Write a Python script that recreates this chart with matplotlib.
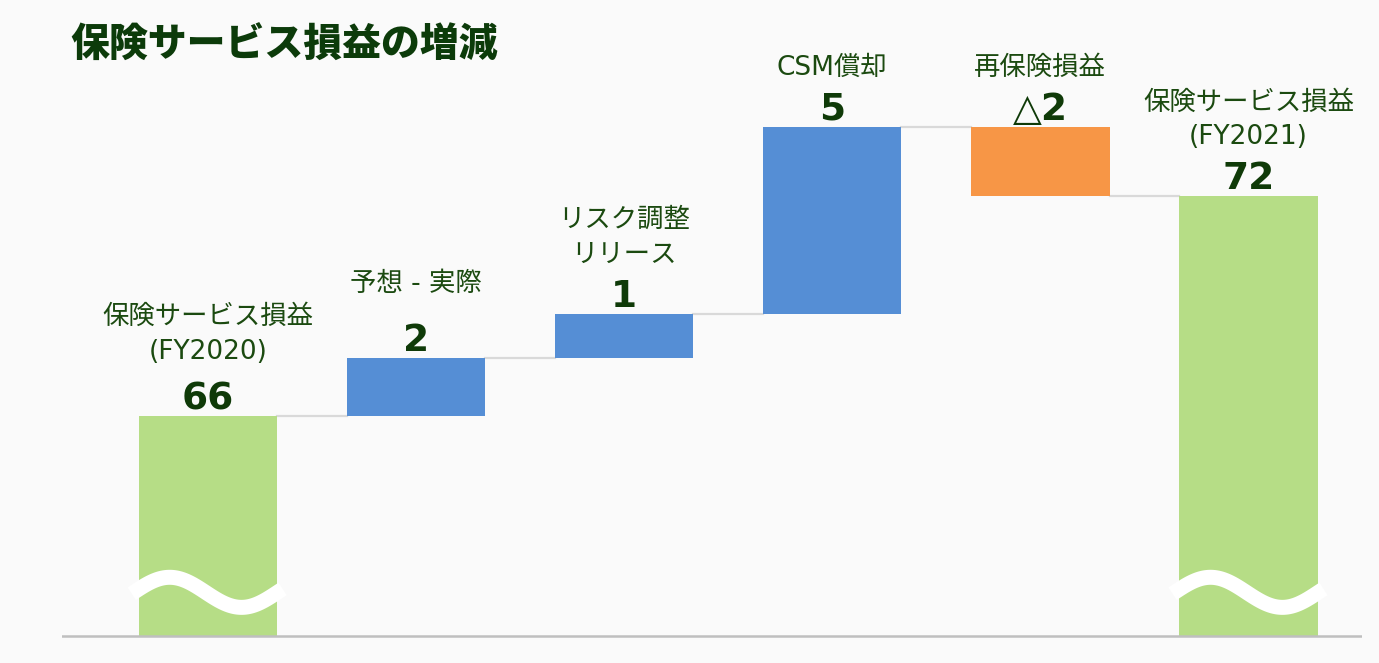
import numpy as np
import matplotlib
matplotlib.use('Agg')
import matplotlib.pyplot as plt

# data
labels = ['保険サービス損益\n(FY2020)', '予想 - 実際', 'リスク調整\nリリース',
          'CSM償却', '再保険損益', '保険サービス損益\n(FY2021)']
value_text = ['66', '2', '1', '5', '△2', '72']
start = 66.0
deltas = [1.6, 1.2, 5.1, -1.9]
end = 72.0
axis_floor = 60.0

green = '#b6dd86'
blue = '#558ed5'
orange = '#f79646'
txt_col = '#1b4a10'
num_col = '#0f3a08'
bg = '#fafafa'
fonts = ['DejaVu Sans', 'Noto Sans CJK JP']

# waterfall geometry
bottoms = [axis_floor]
tops = [start]
level = start
for d in deltas:
    bottoms.append(min(level, level + d))
    tops.append(max(level, level + d))
    level += d
bottoms.append(axis_floor)
tops.append(end)
colors = [green] + [blue if d > 0 else orange for d in deltas] + [green]
levels = list(np.cumsum([start] + deltas))

fig = plt.figure(figsize=(13.79, 6.63), dpi=100, facecolor=bg)
ax = fig.add_axes([62 / 1379, 23 / 663, 1300 / 1379, 640 / 663])
ax.set_facecolor(bg)

x = np.arange(len(labels))
w = 0.665
heights = np.array(tops) - np.array(bottoms)
ax.bar(x, heights, bottom=bottoms, width=w, color=colors, zorder=2)

# connectors
for i in range(len(labels) - 1):
    ax.plot([x[i] + w / 2, x[i + 1] - w / 2], [levels[i], levels[i]],
            color='#d9d9d9', lw=1.6, zorder=1)

# baseline
ax.axhline(axis_floor, color='#bfbfbf', lw=1.8, zorder=3)

# break marks on total bars
for i in (0, len(labels) - 1):
    xs = np.linspace(-0.365, 0.36, 120)
    ys = 61.2 + 0.41 * np.sin(2 * np.pi * (xs + 0.355) / 0.69)
    ax.plot(xs + x[i], ys, color='white', lw=10.8, solid_capstyle='butt', zorder=4)

# labels (small extra lift on the first two category labels, as in the slide)
extra = {0: 4, 1: 11}
for i in range(len(labels)):
    ax.annotate(value_text[i], (x[i], tops[i]), xytext=(0, 5), textcoords='offset points',
                ha='center', va='baseline', fontsize=27, fontweight='bold',
                color=num_col, family=fonts)
    ax.annotate(labels[i], (x[i], tops[i]), xytext=(0, 33 + extra.get(i, 0)),
                textcoords='offset points', ha='center', va='bottom', fontsize=19,
                color=txt_col, family=fonts, linespacing=1.45)

ax.set_xlim(-0.70, 5.545)
ax.set_ylim(axis_floor - 0.1, axis_floor - 0.1 + 640 / 36.67)
ax.axis('off')

fig.text(70 / 1379, 1 - 45 / 663, '保険サービス損益の増減', fontsize=28, fontweight='black',
         color='#0c3b0a', family=['Noto Sans CJK JP'], va='center', ha='left')

plt.savefig('out.png', dpi=100, facecolor=bg)
